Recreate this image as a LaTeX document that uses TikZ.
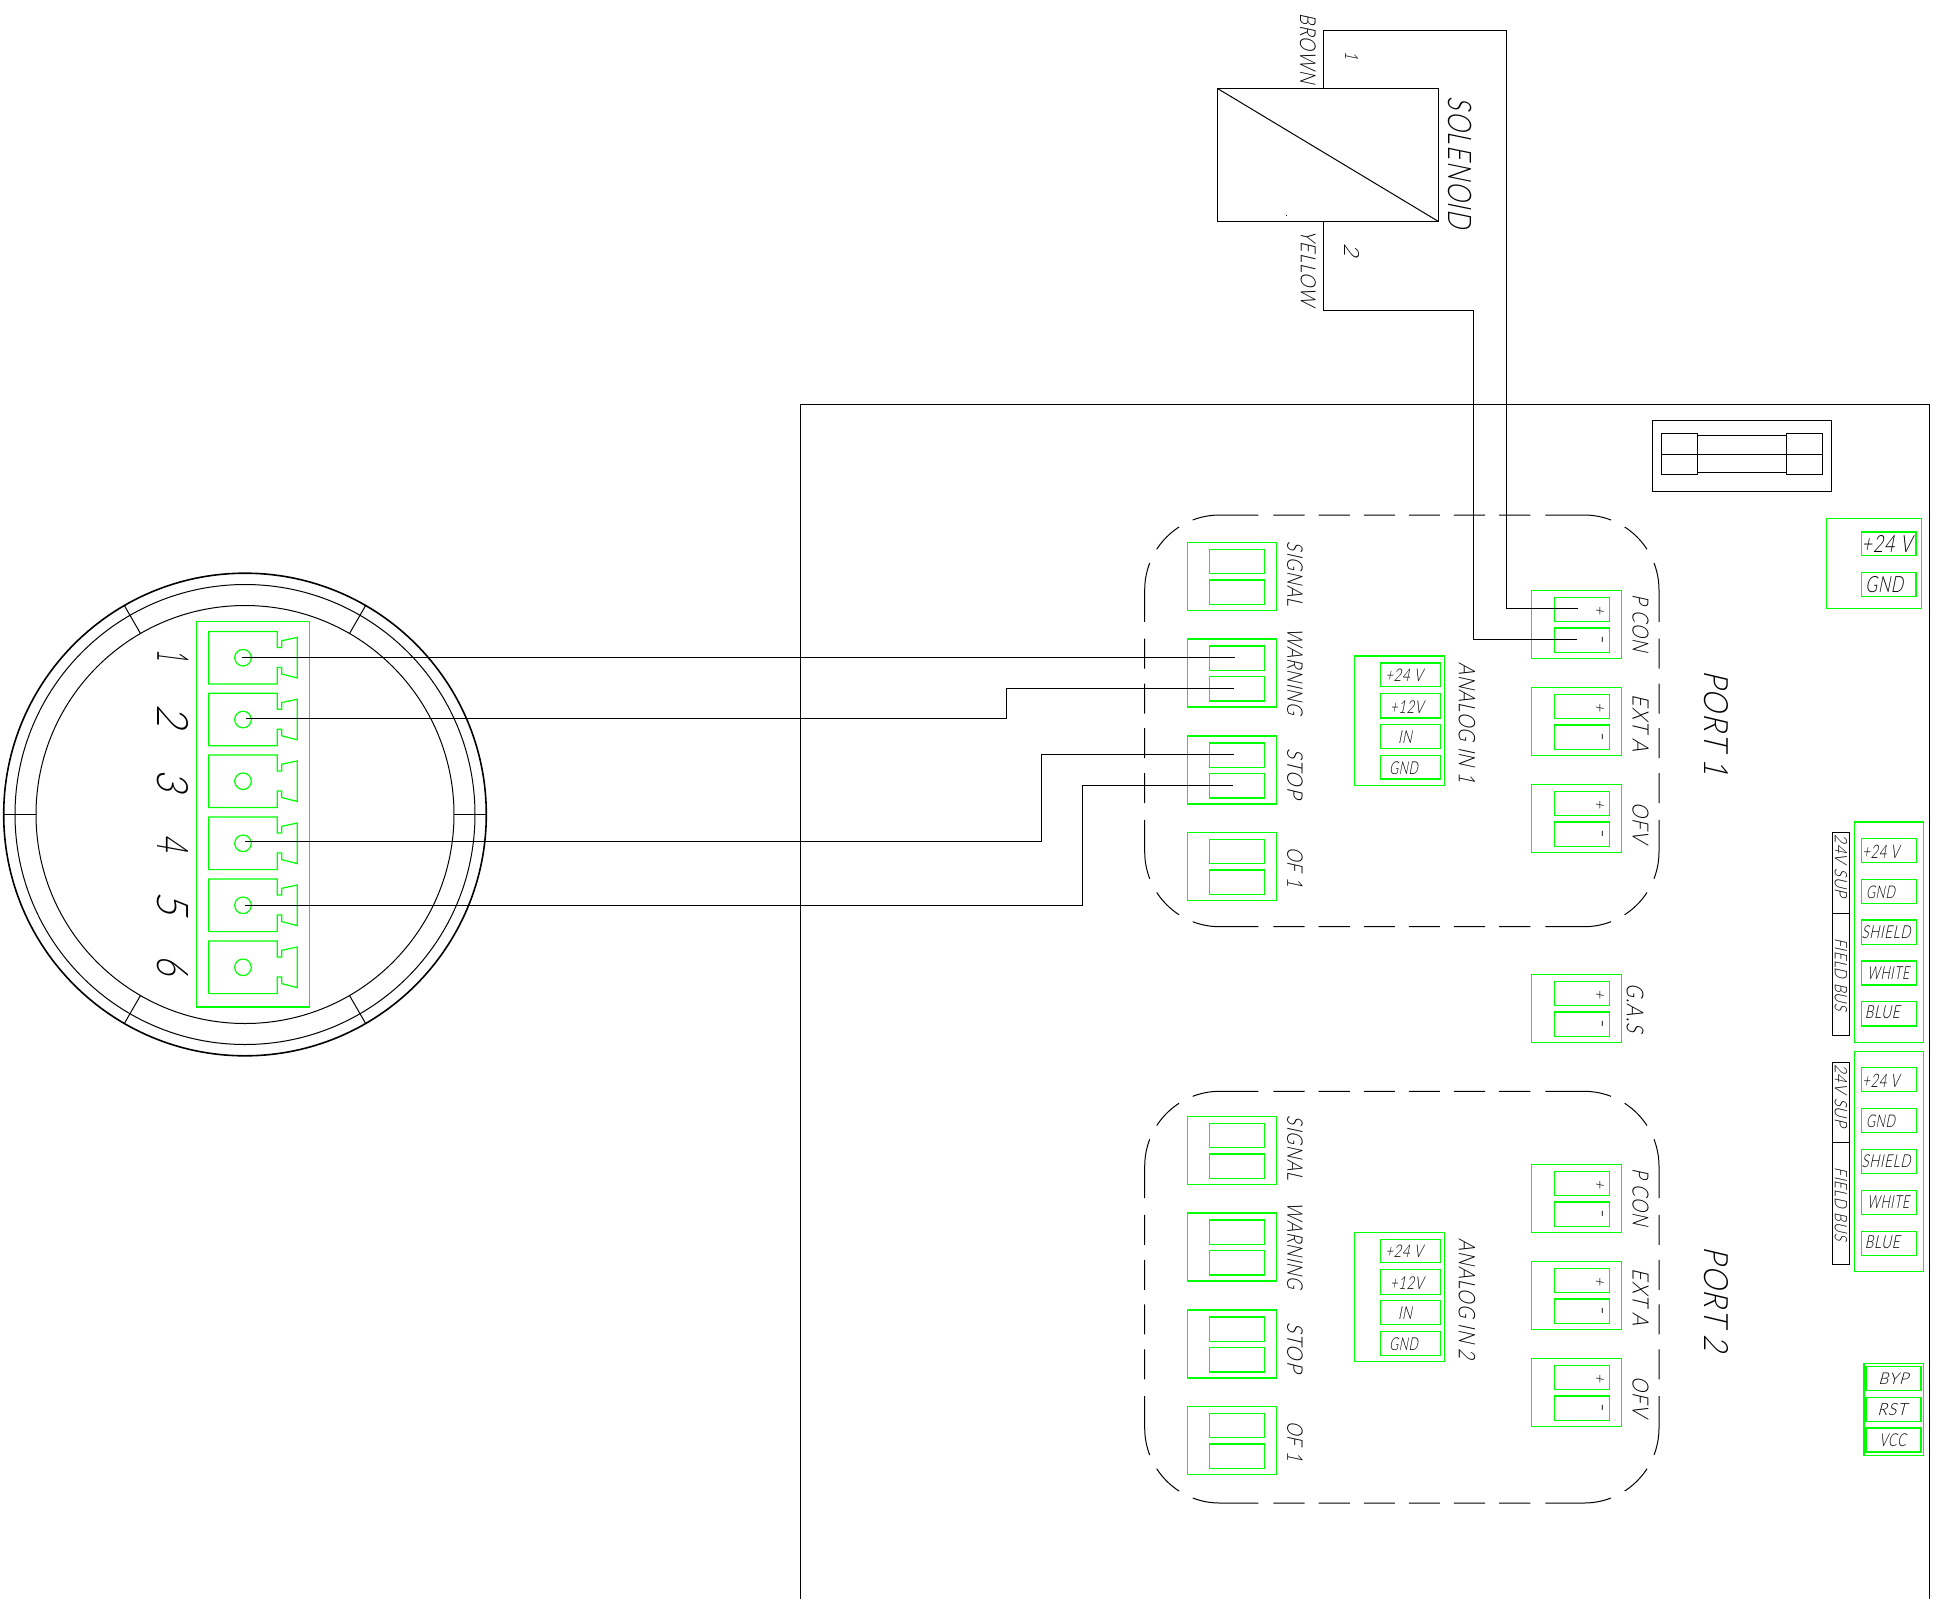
\documentclass[tikz,border=0pt]{standalone}
\usepackage{fontspec}
\usepackage{graphicx}
\newfontfamily\cad{Lato Light}[FakeSlant=0.27,LetterSpace=5]
\newfontfamily\cadsign{Lato Light}[FakeSlant=0.2]
\newcounter{lb}
\definecolor{cadgreen}{RGB}{0,255,0}
\tikzset{
  wire/.style={black,line width=1pt,line join=miter},
  thin cad/.style={black,line width=1pt},
  greenline/.style={cadgreen,line width=1.2pt},
  portline/.style={black,line width=1pt,rounded corners=75pt,
    dash pattern=on 0pt off 7pt on 31pt off 14pt on 31.3pt off 14pt on 31.3pt off 14.9pt on 66.3pt off 15.3pt on 31.8pt off 15.4pt on 59.5pt off 16.7pt on 30pt off 15pt on 30pt off 60pt},
  txt/.style={inner sep=0pt,outer sep=0pt,text=black}
}
% rotated label: x, y, width, height, text
\newcommand\rlab[5]{\stepcounter{lb}\node[txt,rotate=-90] (lb\arabic{lb}) at (#1,#2) {\resizebox{#3pt}{#4pt}{\cad\fontsize{20}{20}\selectfont #5}};}
% horizontal label
\newcommand\hlab[5]{\stepcounter{lb}\node[txt] (lb\arabic{lb}) at (#1,#2) {\resizebox{#3pt}{#4pt}{\cad\fontsize{20}{20}\selectfont #5}};}
% two-way connector: outer x1, x2, inner x1, x2, top y
\newcommand\twoway[5]{\begin{scope}[shift={(0,#5)}]
  \draw[greenline] (#1,0) rectangle (#2,68);
  \draw[greenline] (#3,7) rectangle (#4,31.3);
  \draw[greenline] (#3,37.7) rectangle (#4,62);
\end{scope}}
% polarised connector with + and -
\newcommand\pmconn[1]{\twoway{1531.8}{1621.8}{1554.3}{1609.6}{#1}
  \begin{scope}[shift={(0,#1)}]
  \stepcounter{lb}\node[txt,rotate=-90,font=\cadsign\fontsize{16}{16}\selectfont] (lb\arabic{lb}) at (1599.3,19.4) {+};
  \stepcounter{lb}\node[txt,rotate=-90,font=\cadsign\fontsize{22}{22}\selectfont] (lb\arabic{lb}) at (1599.3,48.7) {-};
  \end{scope}}
% phoenix terminal around centre y
\newcommand\terminal[1]{\begin{scope}[shift={(243,#1)}]
  \draw[greenline] (-34.3,-26.3) -- (34.3,-26.3) -- (34.3,-10.3) -- (38.7,-10.3) -- (38.7,-17) -- (54.3,-20.3) -- (54.3,20.3) -- (38.7,16.3) -- (38.7,9.7) -- (34.3,9.7) -- (34.3,26.3) -- (-34.3,26.3) -- cycle;
  \draw[greenline] (0,0) circle[radius=8.3pt];
\end{scope}}
% dashed outline drawn as four mirrored quarters about its centre
\newcommand\portquarter[2]{\begin{scope}[xscale=#1,yscale=#2]
  \draw[portline] (0,-205.85) -| (-257.15,0);
\end{scope}}
% one port: #1 centre y of outline, #2 shift of outline items, #3 shift of connectors, #4 number
\newcommand\portblock[4]{
  \begin{scope}[shift={(1401.85,#1)}]
  \portquarter{1}{1}\portquarter{-1}{1}\portquarter{1}{-1}\portquarter{-1}{-1}
  \end{scope}
  \twoway{1187.1}{1276.8}{1209.6}{1264.6}{#3+542.3}
  \twoway{1187.1}{1276.8}{1209.6}{1264.6}{#3+639}
  \twoway{1187.1}{1276.8}{1209.6}{1264.6}{#3+736}
  \twoway{1187.1}{1276.8}{1209.6}{1264.6}{#3+832.3}
  \rlab{1295}{#3+574}{64.3}{15.4}{SIGNAL}
  \rlab{1295}{#3+671.7}{86.7}{15.4}{WARNING}
  \rlab{1295}{#3+773.3}{50}{15.4}{STOP}
  \rlab{1295}{#3+867.3}{40}{15.4}{OF 1}
  \pmconn{#3+590.3}
  \pmconn{#3+687.3}
  \pmconn{#3+784.3}
  \rlab{1640.5}{#3+623.3}{57}{16}{P CON}
  \rlab{1640.5}{#3+723.3}{57}{16}{EXT A}
  \rlab{1640.5}{#3+822.7}{40}{16}{OFV}
  \begin{scope}[shift={(0,#2+1.2)}]
  \draw[greenline] (1354.8,654.7) rectangle (1444.7,784.3);
  \draw[greenline] (1380.2,661.7) rectangle (1440.7,685.3);
  \draw[greenline] (1380.2,692.3) rectangle (1440.7,716.7);
  \draw[greenline] (1380.2,723.3) rectangle (1440.7,747.3);
  \draw[greenline] (1380.2,754) rectangle (1440.7,777.7);
  \hlab{1404}{674}{37.5}{12.5}{+24 V}
  \hlab{1406.8}{705.5}{33.6}{12.7}{+12V}
  \hlab{1405}{736}{14}{12.7}{IN}
  \hlab{1403.6}{767}{28.6}{12.7}{GND}
  \rlab{1467}{721.5}{121}{16.4}{ANALOG IN #4}
  \end{scope}
  \rlab{1716.5}{#2+723}{105}{24}{PORT #4}
}
% field bus block
\newcommand\busblock[1]{\begin{scope}[shift={(0,#1)}]
  \draw[greenline] (1854.3,822) rectangle (1923.7,1042.3);
  \draw[greenline] (1861.3,838.3) rectangle (1916.7,862.3);
  \draw[greenline] (1861.3,879.2) rectangle (1916.7,903.2);
  \draw[greenline] (1861.3,920) rectangle (1916.7,944.3);
  \draw[greenline] (1861.3,961) rectangle (1916.7,985);
  \draw[greenline] (1861.3,1001.7) rectangle (1916.7,1026);
  \hlab{1880.8}{851.7}{37}{13.3}{+24 V}
  \hlab{1880.5}{892}{29}{12.5}{GND}
  \hlab{1886}{932}{49}{12.7}{SHIELD}
  \hlab{1888.3}{972.7}{41.7}{12.7}{WHITE}
  \hlab{1882.3}{1012.7}{35}{12.7}{BLUE}
  \draw[thin cad] (1832.7,832.7) rectangle (1849,913.3);
  \draw[thin cad] (1832.7,913.3) rectangle (1849,1035.3);
  \rlab{1841}{866.3}{62.7}{12.3}{24V SUP}
  \rlab{1841}{974.7}{72.7}{12.3}{FIELD BUS}
\end{scope}}
\begin{document}
\begin{tikzpicture}[x=1pt,y=-1pt]
\useasboundingbox (0,0) rectangle (1939,1599);
\fill[white] (0,0) rectangle (1939,1599);

% enclosure
\coordinate (frameA) at (800.5,1599);
\coordinate (frameB) at (800.5,404.5);
\coordinate (frameC) at (1929.5,404.5);
\coordinate (frameD) at (1929.5,1599);
\draw[wire] (frameA) -- (frameB) -- (frameC) -- (frameD);

% round connector
\coordinate (ctr) at (245,814.5);
\draw[black,line width=1.6pt] (ctr) circle[radius=241.3pt];
\draw[thin cad] (ctr) circle[radius=230pt];
\draw[thin cad] (ctr) circle[radius=209pt];
\draw[thin cad] (4,814.5) -- (36,814.5);
\draw[thin cad] (454,814.5) -- (487,814.5);
\draw[thin cad] (140.5,633.5) -- (124.5,605.8);
\draw[thin cad] (349.5,633.5) -- (365.5,605.8);
\draw[thin cad] (140.5,995.5) -- (124.5,1023.2);
\draw[thin cad] (349.5,995.5) -- (365.5,1023.2);
\draw[greenline] (196.7,621.7) rectangle (309.7,1007);
\terminal{657.7}
\terminal{719.5}
\terminal{781.2}
\terminal{843.3}
\terminal{905.3}
\terminal{967.3}
\rlab{172.8}{655.7}{12}{31}{1}
\rlab{172.8}{716}{23}{31}{2}
\rlab{172.8}{780.3}{22}{31}{3}
\rlab{172.8}{843}{17}{31}{4}
\rlab{172.8}{903.3}{23}{31}{5}
\rlab{172.8}{965}{20}{31}{6}

% solenoid
\draw[black,line width=1.1pt] (1217.5,88.5) rectangle (1438.5,221.5);
\draw[thin cad] (1217.5,88.5) -- (1438.5,221.5);
\fill[black] (1286.4,215) rectangle (1287.2,215.8);
\rlab{1307.8}{48.3}{70}{15.7}{BROWN}
\rlab{1308.3}{268}{76}{15}{YELLOW}
\rlab{1351.7}{55.7}{8.3}{13}{1}
\rlab{1351.7}{250}{13}{15}{2}
\rlab{1460}{162.5}{131.7}{23.3}{SOLENOID}

% fuse
\draw[wire] (1652.5,420.5) rectangle (1831.5,491.5);
\draw[black,line width=1.1pt] (1661.5,433.5) rectangle (1697.5,474.5);
\draw[black,line width=1.1pt] (1786.5,433.5) rectangle (1822.5,474.5);
\draw[black,line width=1.1pt] (1697.5,435.5) rectangle (1786.5,472.5);
\draw[black,line width=1.1pt] (1661.5,454.5) -- (1822.5,454.5);

% 24 V supply
\draw[greenline] (1826.7,518.3) rectangle (1921.7,608.3);
\draw[greenline] (1861.3,532) rectangle (1916,555.7);
\draw[greenline] (1861.3,572.7) rectangle (1916,596.7);
\hlab{1886.7}{544}{50}{17}{+24 V}
\hlab{1884.3}{584.7}{37.7}{16}{GND}

% ports
\portblock{720.85}{0}{0}{1}
\portblock{1297.15}{576.3}{574}{2}

% G.A.S.
\pmconn{974.3}
\rlab{1635}{1008}{49}{16.7}{G.A.S}

% field bus
\busblock{0}
\busblock{229.5}

% BYP block
\draw[greenline] (1864,1363.3) rectangle (1923.3,1455.7);
\draw[greenline] (1866,1366.7) rectangle (1921,1390.7);
\draw[greenline] (1866,1397.3) rectangle (1921,1421.3);
\draw[greenline] (1866,1428) rectangle (1921,1452);
\hlab{1893.3}{1378.3}{30}{11.5}{BYP}
\hlab{1892}{1409.3}{29.3}{12}{RST}
\hlab{1892.7}{1440.3}{26.7}{12.7}{VCC}

% wires
\coordinate (pinA) at (241.7,657.5);
\coordinate (pinB) at (245.7,718.5);
\coordinate (pinD) at (245,841.5);
\coordinate (pinE) at (245,905.5);
\coordinate (warnA) at (1235.4,657.5);
\coordinate (warnB) at (1233.6,688.5);
\coordinate (stopA) at (1233.6,754.5);
\coordinate (stopB) at (1232.9,785.5);
\coordinate (bendB) at (1006.5,688.5);
\coordinate (bendD) at (1041.5,754.5);
\coordinate (bendE) at (1082.5,785.5);
\coordinate (conP) at (1577.9,608.5);
\coordinate (conM) at (1577,639.5);
\coordinate (solA) at (1323.5,88.5);
\coordinate (solB) at (1323.5,221.5);
\coordinate (topL) at (1323.5,30.5);
\coordinate (topR) at (1506.5,30.5);
\coordinate (lowL) at (1323.5,310.5);
\coordinate (lowR) at (1473.5,310.5);
\draw[wire] (pinA) -- (warnA);
\draw[wire] (pinB) -| (bendB) -- (warnB);
\draw[wire] (pinD) -| (bendD) -- (stopA);
\draw[wire] (pinE) -| (bendE) -- (stopB);
\draw[wire] (solA) -- (topL) -- (topR) |- (conP);
\draw[wire] (solB) -- (lowL) -- (lowR) |- (conM);
\end{tikzpicture}
\end{document}
